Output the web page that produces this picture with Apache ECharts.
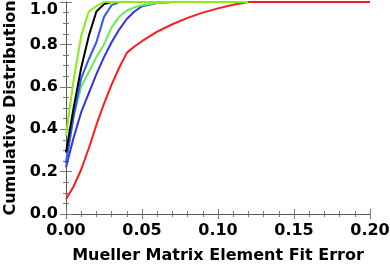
<!DOCTYPE html>
<html>
<head>
<meta charset="utf-8">
<script src="https://cdn.jsdelivr.net/npm/echarts@6/dist/echarts.min.js"></script>
<style>html,body{margin:0;padding:0;background:#fff}#c{width:390px;height:267px}</style>
</head>
<body>
<div id="c"></div>
<script>
var xs = [0, 0.005, 0.01, 0.015, 0.02, 0.025, 0.03, 0.035, 0.04, 0.045, 0.05, 0.06, 0.07, 0.08, 0.09, 0.10, 0.11, 0.12, 0.13, 0.14, 0.15, 0.16, 0.17, 0.18, 0.19, 0.20];
var redY    = [0.07, 0.13, 0.21, 0.31, 0.42, 0.52, 0.61, 0.69, 0.76, 0.79, 0.815, 0.86, 0.895, 0.925, 0.95, 0.97, 0.987, 1.0, 1.0, 1.0, 1.0, 1.0, 1.0, 1.0, 1.0, 1.0];
var blue2Y  = [0.22, 0.36, 0.48, 0.57, 0.66, 0.74, 0.81, 0.87, 0.92, 0.955, 0.98, 0.995, 1.0, 1.0, 1.0, 1.0, 1.0, 1.0];
var greenY  = [0.25, 0.46, 0.6, 0.67, 0.74, 0.80, 0.88, 0.93, 0.96, 0.975, 0.985, 0.995, 1.0, 1.0, 1.0, 1.0, 1.0, 1.0];
var blue1Y  = [0.24, 0.46, 0.64, 0.73, 0.81, 0.93, 0.985, 1.0, 1.0, 1.0, 1.0, 1.0, 1.0, 1.0, 1.0, 1.0, 1.0, 1.0];
var blackY  = [0.29, 0.50, 0.69, 0.84, 0.955, 0.99, 1.0, 1.0, 1.0, 1.0, 1.0, 1.0, 1.0, 1.0, 1.0, 1.0, 1.0, 1.0];
var ygreenY = [0.37, 0.63, 0.84, 0.955, 0.98, 1.0, 1.0, 1.0, 1.0, 1.0, 1.0, 1.0, 1.0, 1.0, 1.0, 1.0, 1.0, 1.0];
var xTicks = ['0.00', '0.05', '0.10', '0.15', '0.20'];
var yTicks = ['0.0', '0.2', '0.4', '0.6', '0.8', '1.0'];

function pairs(ys) { return ys.map(function (y, i) { return [xs[i], y]; }); }

var font = { fontFamily: 'DejaVu Sans', fontWeight: 'bold', fontSize: 16, color: '#000' };
var axisLine = { show: true, lineStyle: { color: '#555', width: 1 } };
var tickStyle = { color: '#777', width: 1 };

function xAxis(pos, labels) {
  return {
    type: 'value', min: 0, max: 0.2, interval: 0.05, position: pos,
    axisLine: axisLine,
    axisTick: { show: true, inside: true, length: 5, lineStyle: tickStyle },
    minorTick: { show: true, splitNumber: 5, length: 3, lineStyle: tickStyle },
    splitLine: { show: false },
    axisLabel: labels ? Object.assign({ margin: 9, formatter: function (v) { return xTicks[Math.round(v / 0.05)]; } }, font) : { show: false },
    name: labels ? 'Mueller Matrix Element Fit Error' : '',
    nameLocation: 'middle', nameGap: 34,
    nameTextStyle: font
  };
}
function yAxis(pos, labels) {
  return {
    type: 'value', min: 0, max: 1, interval: 0.2, position: pos,
    axisLine: axisLine,
    axisTick: { show: true, inside: true, length: 6, lineStyle: tickStyle },
    minorTick: { show: true, splitNumber: 4, length: 3, lineStyle: tickStyle },
    splitLine: { show: false },
    axisLabel: labels ? Object.assign({ margin: 8, verticalAlignMaxLabel: 'top', formatter: function (v) { return yTicks[Math.round(v / 0.2)]; } }, font) : { show: false },
    name: labels ? 'Cumulative Distribution' : '',
    nameLocation: 'middle', nameGap: 43,
    nameTextStyle: font
  };
}
function line(ys, color) {
  return { type: 'line', data: pairs(ys), showSymbol: false, symbol: 'none', xAxisIndex: 0, yAxisIndex: 0,
    lineStyle: { color: color, width: 2 }, itemStyle: { color: color }, animation: false };
}

var chart = echarts.init(document.getElementById('c'), null, { renderer: 'canvas' });
chart.setOption({
  animation: false,
  grid: { left: 66, right: 20, top: 2, bottom: 53, containLabel: false, outerBoundsMode: 'none' },
  xAxis: [xAxis('bottom', true), xAxis('top', false)],
  yAxis: [yAxis('left', true), yAxis('right', false)],
  series: [
    line(redY, '#ff1a1a'),
    line(blue2Y, '#3030ee'),
    line(greenY, '#66ee55'),
    line(blue1Y, '#3355ff'),
    line(blackY, '#000000'),
    line(ygreenY, '#88ee11')
  ]
});
</script>
</body>
</html>
